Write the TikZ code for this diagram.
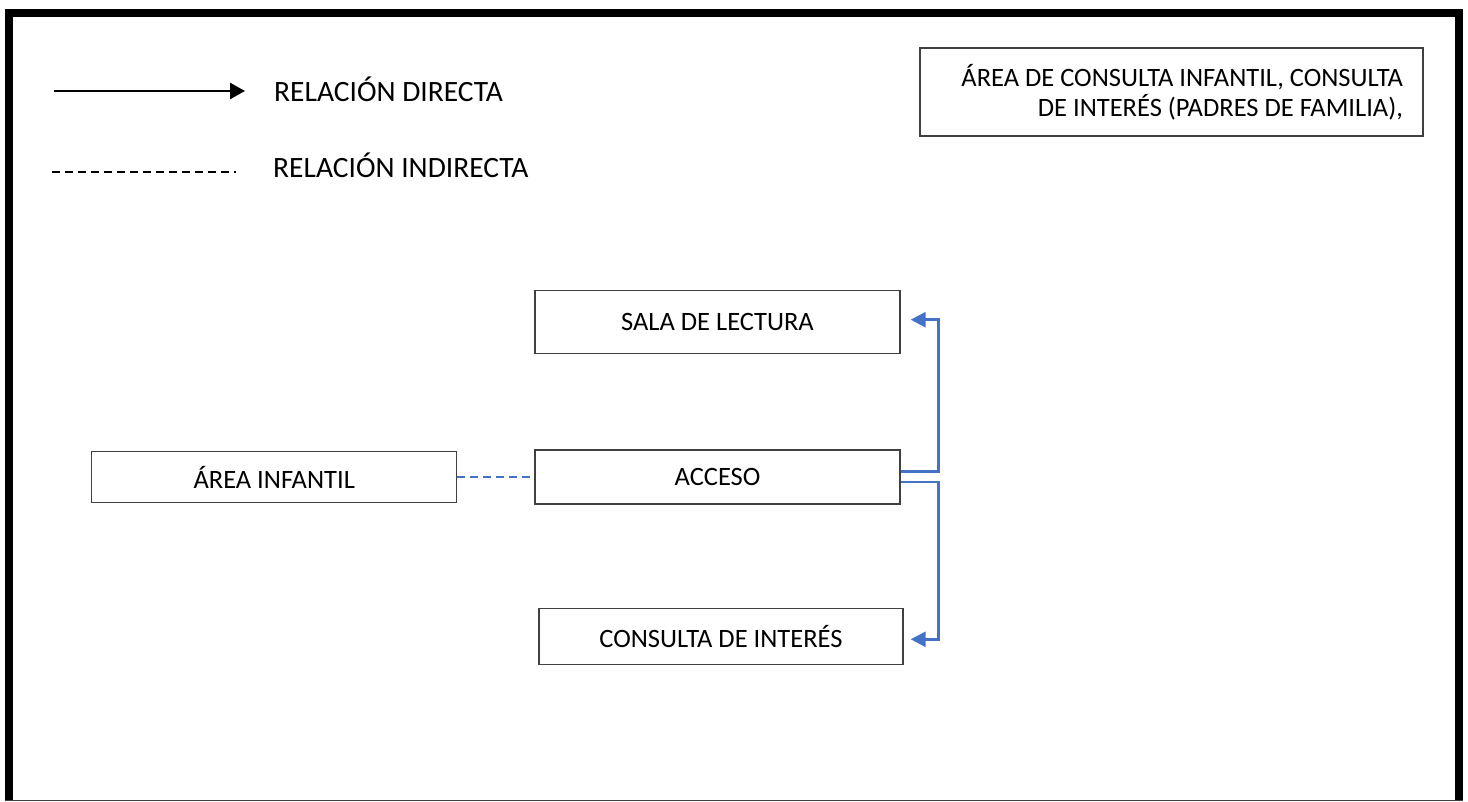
\documentclass[tikz,border=0pt]{standalone}
\usepackage{fontspec}
\setmainfont{Carlito}
\usetikzlibrary{arrows.meta,positioning}
\definecolor{linkblue}{RGB}{68,114,196}
\definecolor{boxgray}{RGB}{64,64,64}
\tikzset{
    area/.style={
        rectangle,
        draw=boxgray,
        line width=1.3pt,
        minimum width=365pt,
        minimum height=54pt,
        text centered,
        font=\fontsize{26.5}{30}\selectfont
    },
    legendtext/.style={
        anchor=base west,
        inner sep=0pt,
        font=\fontsize{29.5}{33}\selectfont
    },
    directa/.style={
        -{Triangle[length=15pt,width=16pt]},
        line width=2.5pt
    },
    indirecta/.style={
        line width=2pt,
        dash pattern=on 8pt off 5pt
    },
    link/.style={
        -{Triangle[length=15pt,width=15pt]},
        draw=linkblue,
        line width=2.5pt
    },
    weaklink/.style={
        draw=linkblue,
        line width=2.5pt,
        dash pattern=on 8pt off 5pt
    }
}

\begin{document}
\begin{tikzpicture}[x=1pt,y=-1pt,node distance=95pt]
\useasboundingbox (0,0) rectangle (1468,802);
% marco
\draw[line width=8pt] (9,801) -- (9,13.5) -- (1459,13.5) -- (1459,801);
\draw[boxgray, line width=1.5pt] (5,800.5) -- (1463,800.5);

% leyenda
\coordinate (dir-start) at (54,91);
\coordinate (dir-end) at (245,91);
\draw[directa] (dir-start) -- (dir-end);
\node[legendtext] (dir-label) at (274,102) {RELACIÓN DIRECTA};

\coordinate (ind-start) at (52,172);
\coordinate (ind-end) at (236,172);
\draw[indirecta] (ind-start) -- (ind-end);
\node[legendtext] (ind-label) at (273,178) {RELACIÓN INDIRECTA};

% nota
\node[area, minimum width=503pt, minimum height=88pt, text width=463pt, inner xsep=20pt, align=flush right] (nota) at (1171.5,92) {ÁREA DE CONSULTA INFANTIL, CONSULTA\\DE INTERÉS (PADRES DE FAMILIA),};

% Acceso
\node[area] (acceso) at (717.5,477) {ACCESO};

% Sala de lectura
\node[area, minimum height=63pt, above=of acceso] (sala) {SALA DE LECTURA};

% Consulta de interes
\node[area, minimum width=364pt, minimum height=56pt, below=103pt of acceso, xshift=3.5pt] (consulta) {CONSULTA DE INTERÉS};

% Area infantil
\node[area, minimum height=51pt, left=77pt of acceso] (infantil) {ÁREA INFANTIL};

\draw[link] ([yshift=5.5pt]acceso.east) -- ++(38,0) |- ([xshift=10pt,yshift=2.5pt]sala.east);
\draw[link] ([yshift=-5pt]acceso.east) -- ++(38,0) |- ([xshift=7pt,yshift=-3pt]consulta.east);
\draw[weaklink] (infantil.east) -- (acceso.west);
\end{tikzpicture}
\end{document}
